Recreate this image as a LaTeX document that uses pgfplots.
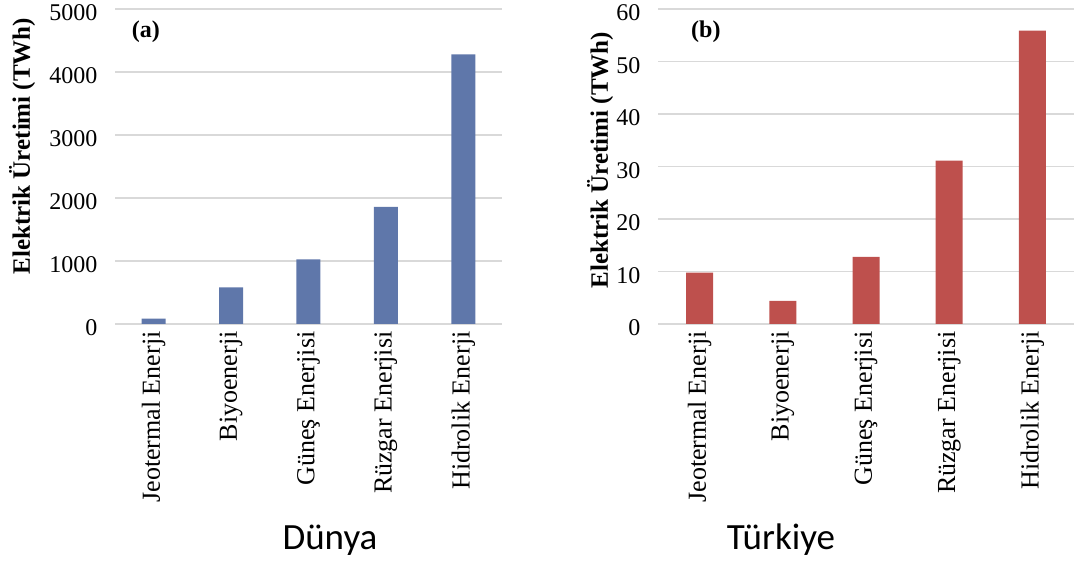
\documentclass[border=0pt]{standalone}
\usepackage{fontspec}
\setmainfont{Liberation Serif}
\newfontfamily\calib{Carlito}
\usepackage{pgfplots}
\pgfplotsset{compat=1.18}

\definecolor{barblue}{RGB}{95,119,170}
\definecolor{barred}{RGB}{190,80,77}
\definecolor{gridgray}{RGB}{217,217,217}

\pgfplotsset{
  panel/.style={
    scale only axis, height=315pt, anchor=south west,
    ybar, bar width=24pt,
    xmin=-0.5, xmax=4.5, ymin=0,
    xtick={0,1,2,3,4},
    xticklabels={Jeotermal Enerji, Biyoenerji, Güneş Enerjisi, Rüzgar Enerjisi, Hidrolik Enerji},
    xticklabel style={rotate=90, anchor=east, font=\fontsize{26}{30}\selectfont, xshift=-4pt},
    yticklabel style={font=\fontsize{24}{28}\selectfont, xshift=-14pt, yshift=-4pt},
    /pgf/number format/assume math mode=true,
    /pgf/number format/1000 sep={},
    major tick length=0pt,
    ymajorgrids, grid style={gridgray, line width=1.2pt},
    x axis line style={gridgray, line width=1.2pt},
    y axis line style={draw=none},
    axis x line*=bottom, axis y line*=left,
    clip=false,
  }
}

\begin{document}
\begin{tikzpicture}
\path[use as bounding box] (0,0) rectangle (1074pt,565pt);

\begin{axis}[panel, at={(115pt,241pt)}, width=387pt, ymax=5000, ytick={0,1000,...,5000},
  ylabel={Elektrik Üretimi (TWh)},
  every axis y label/.style={at={(axis description cs:-0.24,0.565)}, rotate=90, anchor=center, font=\bfseries\fontsize{25}{29}\selectfont}]
\addplot[fill=barblue, draw=none] coordinates {(0,85) (1,580) (2,1025) (3,1860) (4,4280)};
\node[font=\bfseries\fontsize{24}{28}\selectfont] at (axis description cs:0.08,0.927) {(a)};
\end{axis}

\begin{axis}[panel, at={(658pt,241pt)}, width=416pt, ymax=60, ytick={0,10,...,60}, bar width=27pt,
  ylabel={Elektrik Üretimi (TWh)},
  every axis y label/.style={at={(axis description cs:-0.139,0.52)}, rotate=90, anchor=center, font=\bfseries\fontsize{25}{29}\selectfont}]
\addplot[fill=barred, draw=none] coordinates {(0,9.8) (1,4.4) (2,12.8) (3,31.1) (4,55.9)};
\node[font=\bfseries\fontsize{24}{28}\selectfont] at (axis description cs:0.115,0.927) {(b)};
\end{axis}

\node[font=\calib\fontsize{37}{42}\selectfont, anchor=base] at (330pt,15pt) {Dünya};
\node[font=\calib\fontsize{37}{42}\selectfont, anchor=base] at (781pt,15pt) {Türkiye};
\end{tikzpicture}
\end{document}
